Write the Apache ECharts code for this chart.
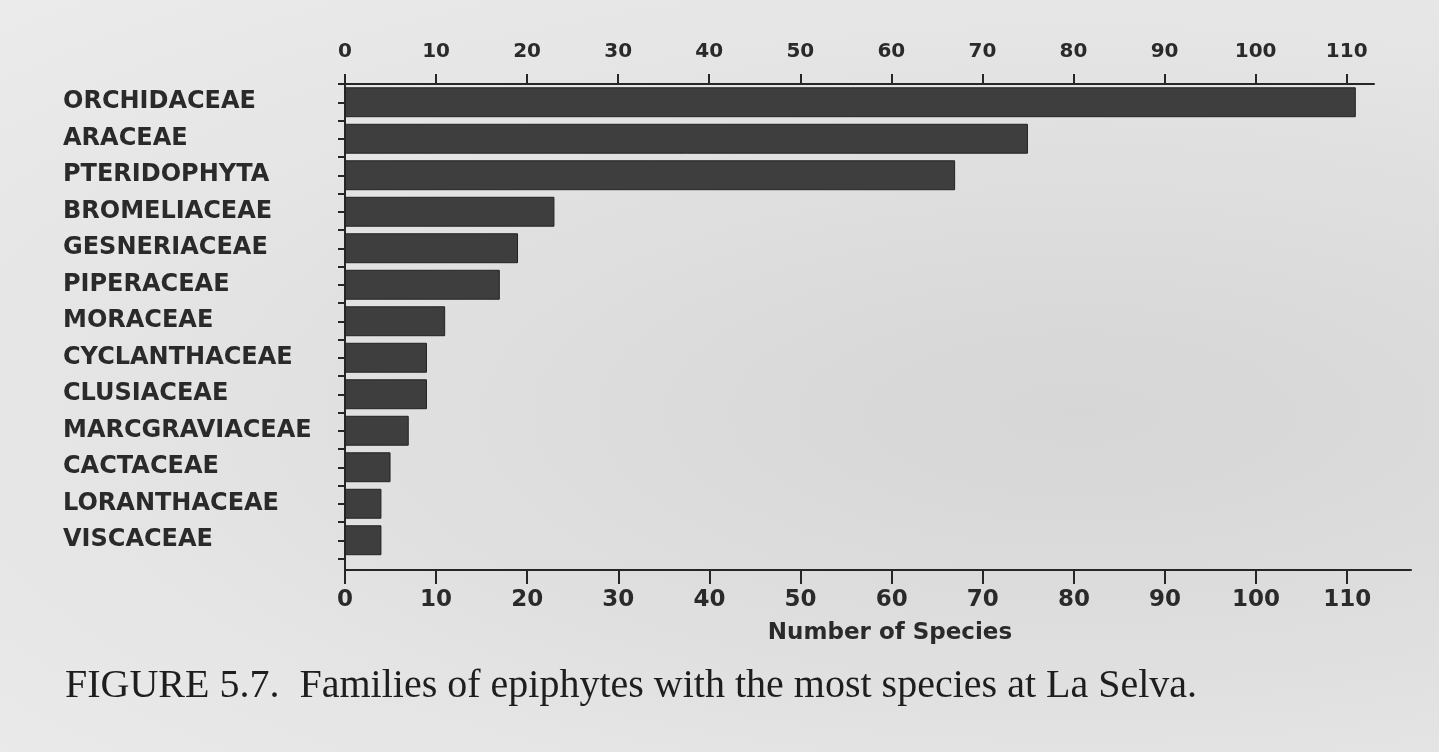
<!DOCTYPE html>
<html>
<head>
<meta charset="utf-8">
<script src="https://cdn.jsdelivr.net/npm/echarts@6/dist/echarts.min.js"></script>
<style>
  html, body { margin: 0; padding: 0; }
  body {
    width: 1439px; height: 752px; overflow: hidden;
    background: radial-gradient(ellipse at 75% 55%, #d6d6d6 0%, #dddddd 35%, #e6e6e6 70%, #ebebeb 100%);
  }
  #chart { width: 1439px; height: 752px; }
</style>
</head>
<body>
<div id="chart"></div>
<script>
// ---- data ----
const families = [
  'ORCHIDACEAE', 'ARACEAE', 'PTERIDOPHYTA', 'BROMELIACEAE', 'GESNERIACEAE',
  'PIPERACEAE', 'MORACEAE', 'CYCLANTHACEAE', 'CLUSIACEAE', 'MARCGRAVIACEAE',
  'CACTACEAE', 'LORANTHACEAE', 'VISCACEAE'
];
const speciesCount = [111, 75, 67, 23, 19, 17, 11, 9, 9, 7, 5, 4, 4];
const xTicks = [0, 10, 20, 30, 40, 50, 60, 70, 80, 90, 100, 110];
const axisTitle = 'Number of Species';
const caption = 'FIGURE 5.7.  Families of epiphytes with the most species at La Selva.';

// ---- chart ----
const ink = '#262626';
const chart = echarts.init(document.getElementById('chart'), null, { renderer: 'canvas' });

const option = {
  backgroundColor: 'transparent',
  animation: false,
  textStyle: { fontFamily: 'DejaVu Sans', color: ink },
  grid: [
    { left: 345, top: 84, width: 1029, height: 474.5, containLabel: false },
    { left: 345, top: 84, width: 1066, height: 486, containLabel: false }
  ],
  xAxis: [
    {
      gridIndex: 0, type: 'value', position: 'top', min: 0, max: 113,
      axisLine: { show: true, lineStyle: { color: ink, width: 2 } },
      axisTick: { show: true, inside: false, length: 10, customValues: xTicks, lineStyle: { color: ink, width: 2 } },
      axisLabel: { show: true, customValues: xTicks, margin: 22, fontSize: 20, fontWeight: 'bold', color: '#2a2a2a', fontFamily: 'DejaVu Sans' },
      splitLine: { show: false }
    },
    {
      gridIndex: 1, type: 'value', position: 'bottom', min: 0, max: 117,
      axisLine: { show: true, lineStyle: { color: ink, width: 2 } },
      axisTick: { show: true, inside: false, length: 14, customValues: xTicks, lineStyle: { color: ink, width: 2 } },
      axisLabel: { show: true, customValues: xTicks, margin: 19, fontSize: 23, fontWeight: 'bold', color: '#2a2a2a', fontFamily: 'DejaVu Sans' },
      splitLine: { show: false },
      name: axisTitle, nameLocation: 'middle', nameGap: 52,
      nameTextStyle: { fontSize: 23, fontWeight: 'bold', color: '#2a2a2a', fontFamily: 'DejaVu Sans', padding: [0, 0, 0, 24] }
    }
  ],
  yAxis: [
    {
      gridIndex: 0, type: 'category', data: families, inverse: true, boundaryGap: true,
      axisLine: { show: false },
      axisTick: { show: true, length: 7, alignWithLabel: false, lineStyle: { color: ink, width: 2 } },
      axisLabel: { show: true, align: 'left', margin: 282, fontSize: 24, fontWeight: 'bold', color: '#2a2a2a', fontFamily: 'DejaVu Sans' },
      splitLine: { show: false }
    },
    {
      gridIndex: 0, type: 'category', data: families, inverse: true, boundaryGap: true, position: 'left',
      axisLine: { show: false },
      axisTick: { show: true, length: 7, alignWithLabel: true, lineStyle: { color: ink, width: 2 } },
      axisLabel: { show: false },
      splitLine: { show: false }
    },
    {
      gridIndex: 1, type: 'value', min: 0, max: 1,
      axisLine: { show: true, lineStyle: { color: ink, width: 2 } },
      axisTick: { show: false }, axisLabel: { show: false }, splitLine: { show: false }
    }
  ],
  series: [
    {
      type: 'bar', xAxisIndex: 0, yAxisIndex: 0,
      data: speciesCount,
      barCategoryGap: '18%',
      itemStyle: { color: '#3e3e3e', borderColor: '#222', borderWidth: 1 },
      silent: true
    }
  ],
  graphic: [
    {
      type: 'text', left: 65, top: 666,
      style: { text: caption, font: '40px "Liberation Serif"', fill: '#1e1e1e' }
    }
  ]
};
chart.setOption(option);
</script>
</body>
</html>
